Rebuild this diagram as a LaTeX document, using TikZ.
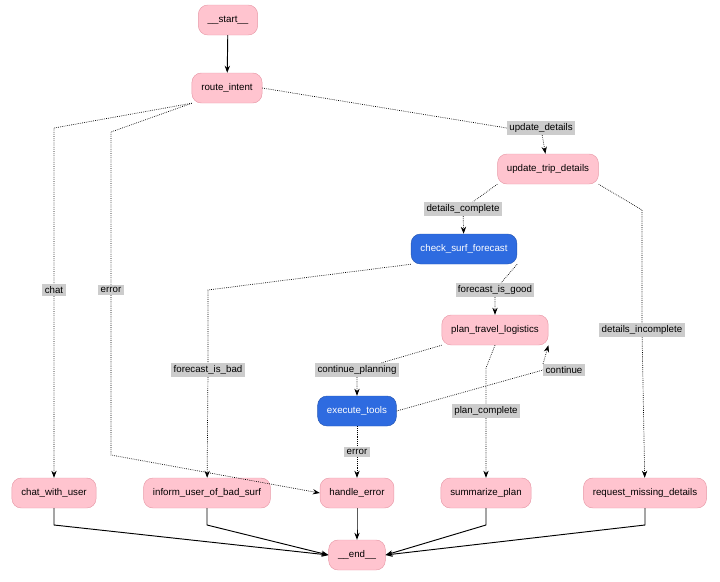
\documentclass[tikz,border=0pt]{standalone}
\usepackage{fontspec}
\setmainfont{Liberation Sans}
\usetikzlibrary{positioning}
\usetikzlibrary{arrows.meta}
\definecolor{pinkfill}{HTML}{FFC4CF}
\definecolor{pinkline}{HTML}{E89AA8}
\definecolor{bluefill}{HTML}{2E6BE0}
\definecolor{lblgray}{HTML}{CCCCCC}
\tikzset{
  stage/.style={draw=pinkline, fill=pinkfill, rounded corners=8pt, minimum height=30*0.03cm, inner xsep=8pt, font=\fontsize{8.3}{10}\selectfont},
  tool/.style={stage, draw=bluefill!80!black, fill=bluefill, text=white},
  lbl/.style={fill=lblgray, inner sep=2pt, font=\fontsize{8.3}{10}\selectfont},
  dotted edge/.style={densely dotted, semithick, -{Stealth[length=6pt]}},
  solid edge/.style={thick, -{Stealth[length=6pt]}}
}
\begin{document}
\begin{tikzpicture}[x=0.03cm, y=-0.03cm]
\useasboundingbox (0,0) rectangle (720,582);

% nodes
\node[stage] (start) at (228,20) {\_\_start\_\_};
\node[stage] (route) at (227,88) {route\_intent};
\node[stage] (update) at (548,169) {update\_trip\_details};
\node[tool] (check) at (464,249) {check\_surf\_forecast};
\node[stage] (plan) at (495,330) {plan\_travel\_logistics};
\node[tool] (exec) at (357,411) {execute\_tools};
\node[stage] (chat) at (54,493) {chat\_with\_user};
\node[stage] (bad) at (207,493) {inform\_user\_of\_bad\_surf};
\node[stage] (err) at (357,493) {handle\_error};
\node[stage] (summ) at (486,493) {summarize\_plan};
\node[stage] (req) at (645,493) {request\_missing\_details};
\node[stage] (end) at (357,555) {\_\_end\_\_};

% solid edges
\draw[solid edge] (start) -- (route);
\draw[solid edge] (chat.south) -- (54,525) -- (end.west);
\draw[solid edge] (bad.south) -- (207,525) -- (end.west);
\draw[solid edge] (err.south) -- (357,525) -- (end.north);
\draw[solid edge] (summ.south) -- (486,525) -- (end.east);
\draw[solid edge] (req.south) -- (645,525) -- (end.east);

% labels
\node[lbl] (l1) at (541,128) {update\_details};
\node[lbl] (l2) at (463,209) {details\_complete};
\node[lbl] (l3) at (495,290) {forecast\_is\_good};
\node[lbl] (l4) at (54,290) {chat};
\node[lbl] (l5) at (111,290) {error};
\node[lbl] (l6) at (208,370) {forecast\_is\_bad};
\node[lbl] (l7) at (357,370) {continue\_planning};
\node[lbl] (l8) at (564,370) {continue};
\node[lbl] (l9) at (486,411) {plan\_complete};
\node[lbl] (l10) at (642,330) {details\_incomplete};
\node[lbl] (l11) at (357,452) {error};

% dotted edges
\draw[dotted edge] (route.east) -- (l1.west) (l1) -- (update);
\draw[dotted edge] (route.south west) -- (54,128) -- (l4) (l4) -- (chat);
\draw[dotted edge] (route.south west) -- (111,132) -- (l5) (l5) -- (111,455) -- (err.west);
\draw[dotted edge] (update.south west) -- (l2) (l2) -- (check);
\draw[dotted edge] (update.south east) -- (642,210) -- (l10) (l10) -- (req);
\draw[dotted edge] (check.south east) -- (l3) (l3) -- (plan);
\draw[dotted edge] (check.south west) -- (208,290) -- (l6) (l6) -- (bad);
\draw[dotted edge] (plan.south west) -- (l7) (l7) -- (exec);
\draw[dotted edge] (exec.east) -- (l8.west) (l8.north west) -- (plan.south east);
\draw[dotted edge] (plan.south) -- (486,368) -- (l9) (l9) -- (summ);
\draw[dotted edge] (exec) -- (l11) (l11) -- (err);
\end{tikzpicture}
\end{document}
